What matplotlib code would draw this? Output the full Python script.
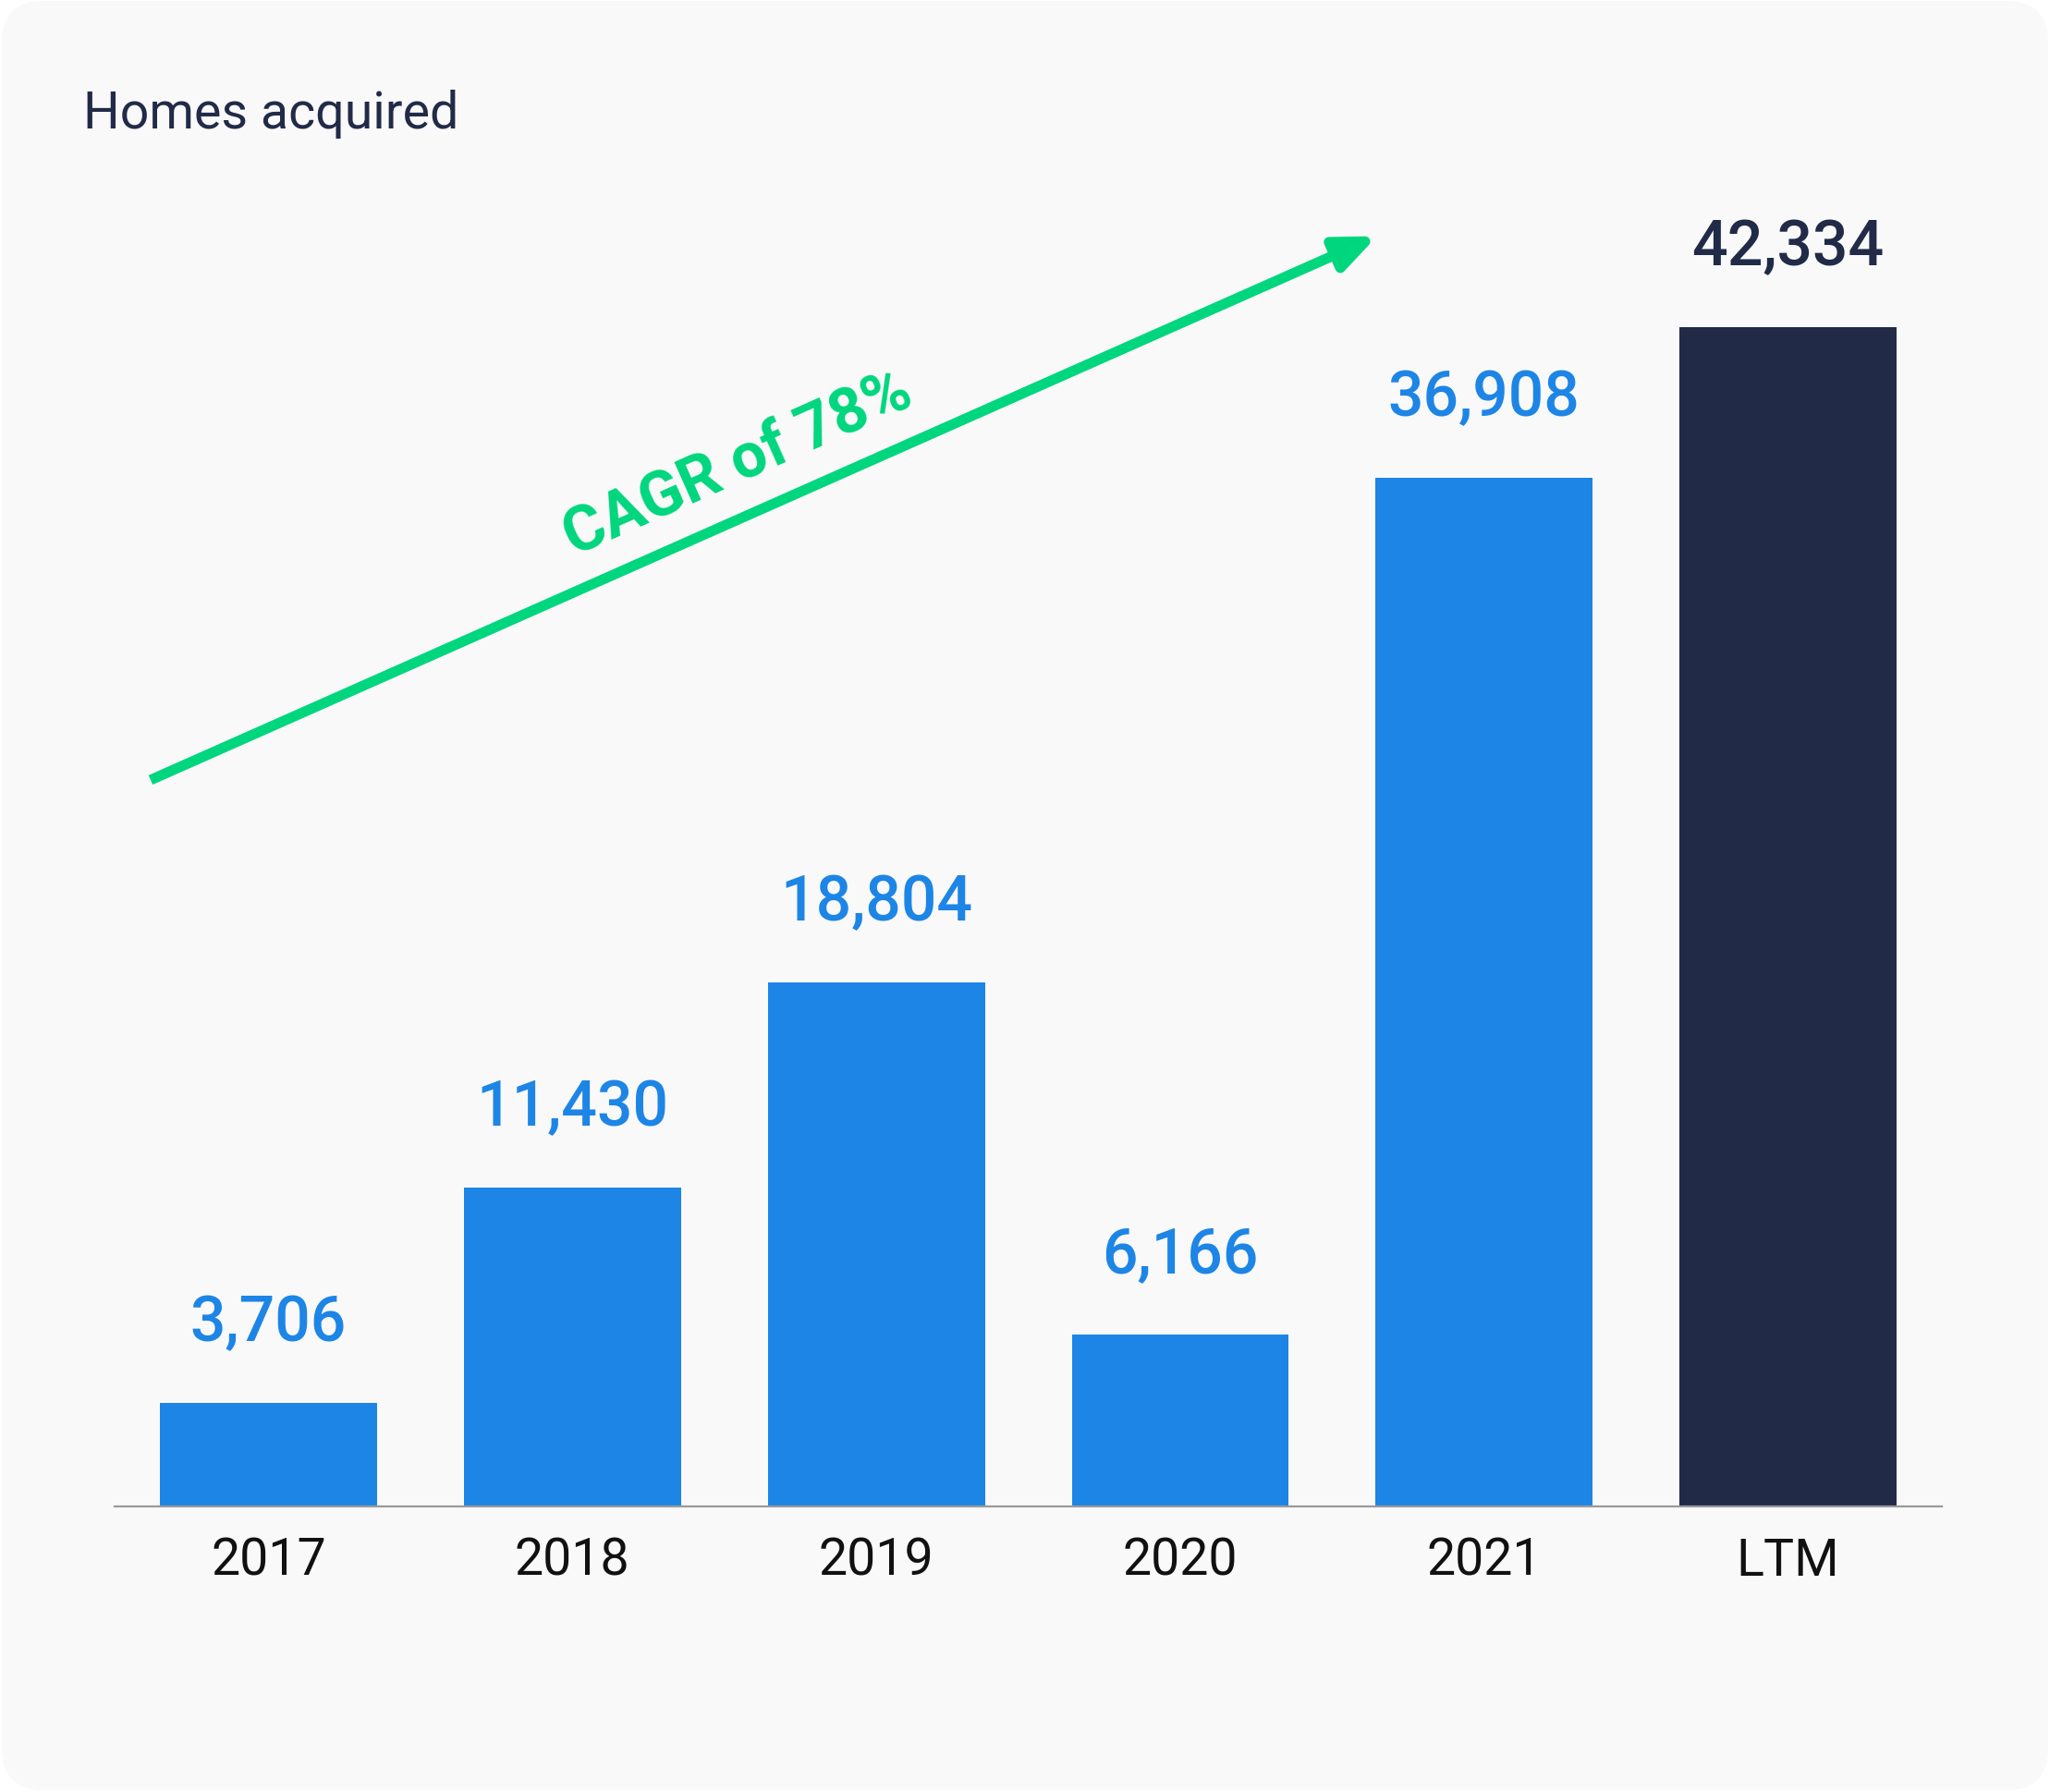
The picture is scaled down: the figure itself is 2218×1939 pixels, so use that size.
import matplotlib
matplotlib.use("Agg")
import matplotlib.pyplot as plt
from matplotlib.patches import FancyBboxPatch

plt.rcParams['font.family'] = ['Roboto', 'DejaVu Sans']

# Homes acquired per period
periods = ['2017', '2018', '2019', '2020', '2021', 'LTM']
homes = [3706, 11430, 18804, 6166, 36908, 42334]
value_labels = ['3,706', '11,430', '18,804', '6,166', '36,908', '42,334']
cagr_text = 'CAGR of 78%'

BLUE = '#1d85e6'
NAVY = '#212b48'
GREEN = '#00d67e'
CARD = '#f9f9f9'

fig = plt.figure(figsize=(22.18, 19.40), dpi=100, facecolor='white')

# rounded card behind everything
card = FancyBboxPatch((0.02, 0.02), 22.14, 19.36,
                      boxstyle='round,pad=0,rounding_size=0.45',
                      transform=fig.dpi_scale_trans,
                      facecolor=CARD, edgecolor='none', zorder=-10)
fig.patches.append(card)

ax = fig.add_axes([0.0561, 0.1593, 0.891, 0.738])
ax.set_facecolor('none')

colors = [BLUE] * (len(homes) - 1) + [NAVY]
x = list(range(len(periods)))
ax.bar(x, homes, width=0.714, color=colors, zorder=2)

for xi, v, lab, c in zip(x, homes, value_labels, colors):
    ax.annotate(lab, (xi, v), xytext=(0, 49), textcoords='offset points',
                ha='center', va='baseline', fontsize=49, fontweight='medium',
                color=c)

ax.set_xlim(-0.505, 5.505)
ax.set_ylim(0, 47500)
ax.set_xticks(x)
ax.set_xticklabels(periods, fontsize=40, color='#111111')
ax.tick_params(axis='x', length=0, pad=23)
ax.set_yticks([])
for side in ['left', 'right', 'top']:
    ax.spines[side].set_visible(False)
ax.spines['bottom'].set_color('#9a9a9a')
ax.spines['bottom'].set_linewidth(1.6)

# growth arrow with CAGR note
ax.annotate('', xy=(0.691, 0.960), xytext=(0.0195, 0.549),
            xycoords='axes fraction', textcoords='axes fraction',
            arrowprops=dict(arrowstyle='-|>,head_length=2.6,head_width=1.1',
                            color=GREEN, lw=8, shrinkA=0, shrinkB=0,
                            capstyle='butt'))
ax.text(0.341, 0.788, cagr_text, transform=ax.transAxes, rotation=24,
        rotation_mode='anchor', ha='center', va='center',
        fontsize=49, fontweight='bold', color=GREEN)

fig.text(0.0408, 0.9284, 'Homes acquired', fontsize=40, color=NAVY,
         va='baseline', ha='left')

fig.savefig('out.png', dpi=100, facecolor=fig.get_facecolor())
